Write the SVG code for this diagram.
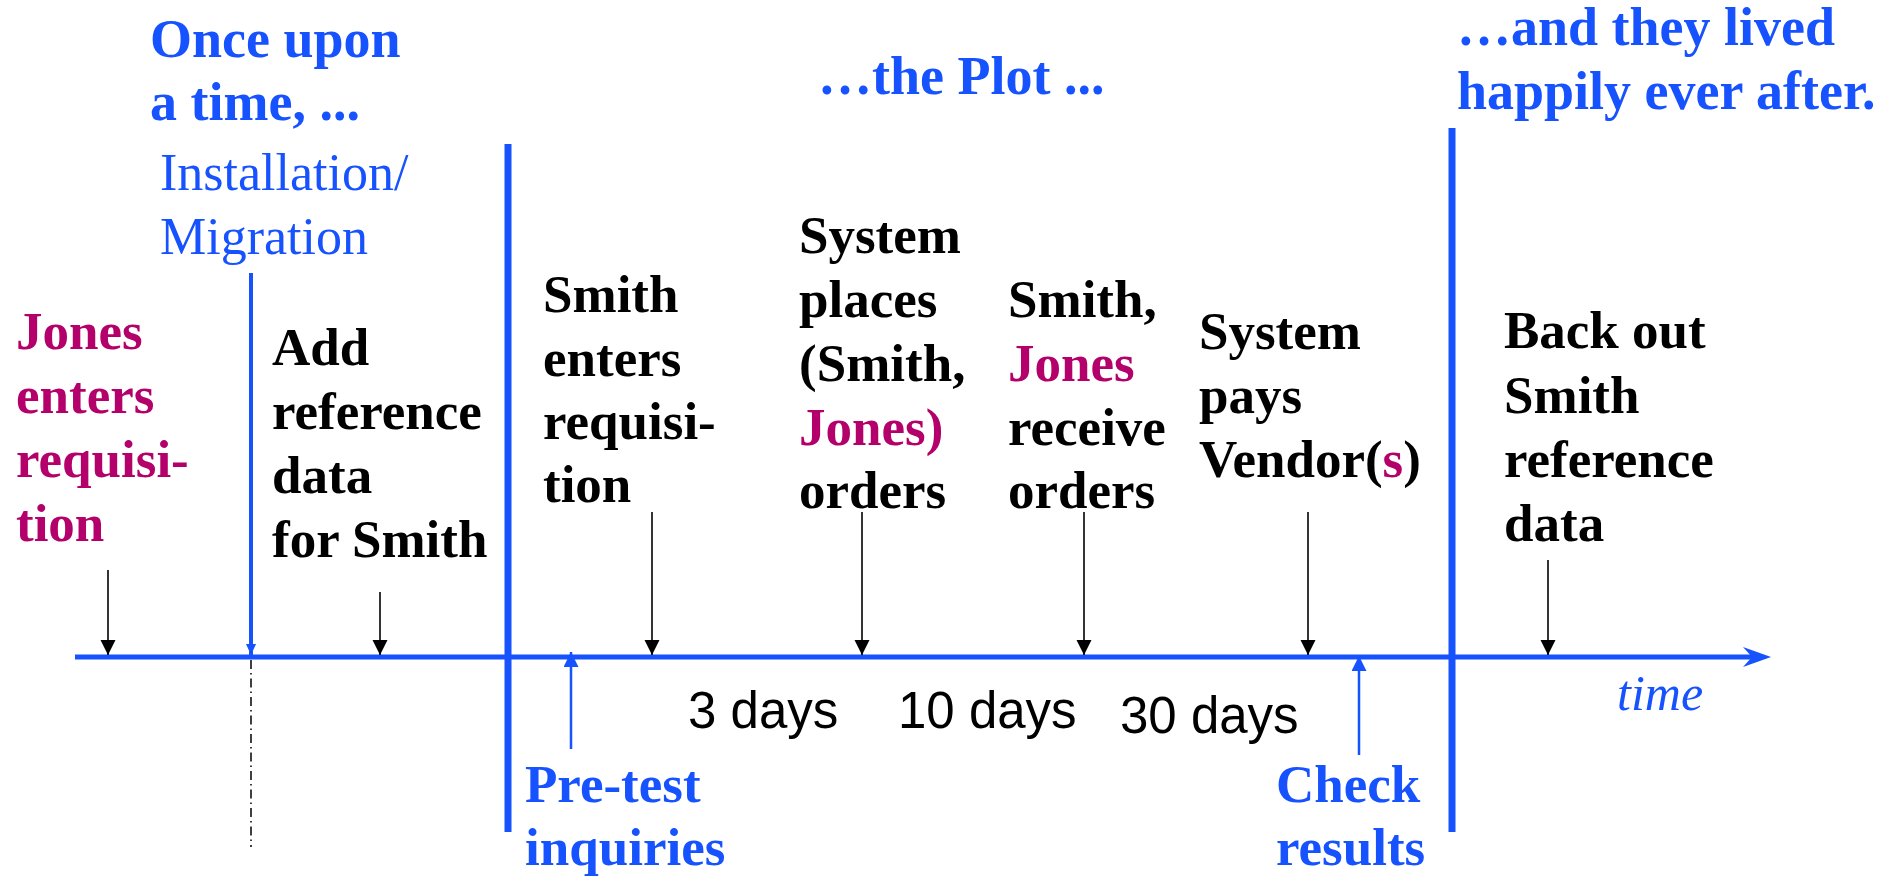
<svg xmlns="http://www.w3.org/2000/svg" width="1893" height="880" viewBox="0 0 1893 880">
<style>
  text { font-family: "Liberation Serif", "Times New Roman", serif; }
  .title { font-size: 54px; font-weight: bold; fill: #1752ff; }
  .ev { font-size: 53px; font-weight: bold; fill: #000; }
  .mag { fill: #b3006b; }
  .blue { fill: #1752ff; }
  .note { font-size: 52px; fill: #1752ff; }
  .days { font-family: "Liberation Sans", Arial, sans-serif; font-size: 51px; fill: #000; }
  .time { font-size: 50px; font-style: italic; fill: #1752ff; }
  .pole { stroke: #1752ff; stroke-width: 7; fill: none; }
  .tick { stroke: #000; stroke-width: 1.6; fill: none; marker-end: url(#ah); }
  .up { stroke: #1752ff; stroke-width: 2.5; fill: none; marker-end: url(#bh); }
</style>
<defs>
  <marker id="ah" markerUnits="userSpaceOnUse" markerWidth="16" markerHeight="16" refX="15" refY="7.5" orient="auto">
    <path d="M0,0 L15,7.5 L0,15 z" fill="#000"/>
  </marker>
  <marker id="bh" markerUnits="userSpaceOnUse" markerWidth="16" markerHeight="16" refX="15" refY="7.5" orient="auto">
    <path d="M0,0 L15,7.5 L0,15 z" fill="#1752ff"/>
  </marker>
  <marker id="sh" markerUnits="userSpaceOnUse" markerWidth="12" markerHeight="12" refX="11" refY="5" orient="auto">
    <path d="M0,0 L11,5 L0,10 z" fill="#1752ff"/>
  </marker>
</defs>
<rect width="1893" height="880" fill="#fff"/>

<g id="connectors">
  <!-- timeline -->
  <line x1="75" y1="657" x2="1762" y2="657" stroke="#1752ff" stroke-width="5"/>
  <path d="M1771,657 L1743,647 L1752,657 L1743,667 z" fill="#1752ff"/>
  <!-- phase separators -->
  <line class="pole" x1="508" y1="144" x2="508" y2="832"/>
  <line class="pole" x1="1452" y1="128" x2="1452" y2="832"/>
  <!-- installation marker -->
  <line x1="251" y1="273" x2="251" y2="655" stroke="#1752ff" stroke-width="4" marker-end="url(#sh)"/>
  <line x1="251" y1="660" x2="251" y2="847" stroke="#000" stroke-width="1.5" stroke-dasharray="9 4 1.5 4"/>
  <!-- event ticks -->
  <line class="tick" x1="108" y1="570" x2="108" y2="655"/>
  <line class="tick" x1="380" y1="592" x2="380" y2="655"/>
  <line class="tick" x1="652" y1="512" x2="652" y2="655"/>
  <line class="tick" x1="862" y1="512" x2="862" y2="655"/>
  <line class="tick" x1="1084" y1="512" x2="1084" y2="655"/>
  <line class="tick" x1="1308" y1="512" x2="1308" y2="655"/>
  <line class="tick" x1="1548" y1="560" x2="1548" y2="655"/>
  <!-- check arrows -->
  <line class="up" x1="571" y1="749" x2="571" y2="652"/>
  <line class="up" x1="1359" y1="755" x2="1359" y2="656"/>
</g>

<g id="title-once">
  <text class="title"><tspan x="150" y="57">Once upon</tspan><tspan x="150" y="120">a time, ...</tspan></text>
</g>
<g id="title-plot">
  <text class="title" x="818" y="94">…the Plot ...</text>
</g>
<g id="title-happily">
  <text class="title"><tspan x="1457" y="45">…and they lived</tspan><tspan x="1457" y="109">happily ever after.</tspan></text>
</g>
<g id="installation">
  <text class="note"><tspan x="160" y="190">Installation/</tspan><tspan x="160" y="254">Migration</tspan></text>
</g>

<g id="jones-enters">
  <text class="ev mag"><tspan x="16" y="349">Jones</tspan><tspan x="16" y="413">enters</tspan><tspan x="16" y="477">requisi-</tspan><tspan x="16" y="541">tion</tspan></text>
</g>
<g id="add-reference">
  <text class="ev"><tspan x="272" y="365">Add</tspan><tspan x="272" y="429">reference</tspan><tspan x="272" y="493">data</tspan><tspan x="272" y="557">for Smith</tspan></text>
</g>
<g id="smith-enters">
  <text class="ev"><tspan x="543" y="312">Smith</tspan><tspan x="543" y="376">enters</tspan><tspan x="543" y="439">requisi-</tspan><tspan x="543" y="502">tion</tspan></text>
</g>
<g id="system-places">
  <text class="ev"><tspan x="799" y="253">System</tspan><tspan x="799" y="317">places</tspan><tspan x="799" y="381">(Smith,</tspan><tspan x="799" y="445" class="mag">Jones)</tspan><tspan x="799" y="508">orders</tspan></text>
</g>
<g id="receive-orders">
  <text class="ev"><tspan x="1008" y="317">Smith,</tspan><tspan x="1008" y="381" class="mag">Jones</tspan><tspan x="1008" y="445">receive</tspan><tspan x="1008" y="508">orders</tspan></text>
</g>
<g id="system-pays">
  <text class="ev"><tspan x="1199" y="349">System</tspan><tspan x="1199" y="413">pays</tspan><tspan x="1199" y="477">Vendor(<tspan class="mag">s</tspan>)</tspan></text>
</g>
<g id="back-out">
  <text class="ev"><tspan x="1504" y="348">Back out</tspan><tspan x="1504" y="413">Smith</tspan><tspan x="1504" y="477">reference</tspan><tspan x="1504" y="541">data</tspan></text>
</g>

<g id="durations">
  <text class="days" x="688" y="728">3 days</text>
  <text class="days" x="898" y="728">10 days</text>
  <text class="days" x="1120" y="733">30 days</text>
</g>
<g id="time-label">
  <text class="time" x="1617" y="710">time</text>
</g>
<g id="pre-test">
  <text class="ev blue"><tspan x="525" y="802">Pre-test</tspan><tspan x="525" y="865">inquiries</tspan></text>
</g>
<g id="check-results">
  <text class="ev blue"><tspan x="1276" y="802">Check</tspan><tspan x="1276" y="865">results</tspan></text>
</g>
</svg>
